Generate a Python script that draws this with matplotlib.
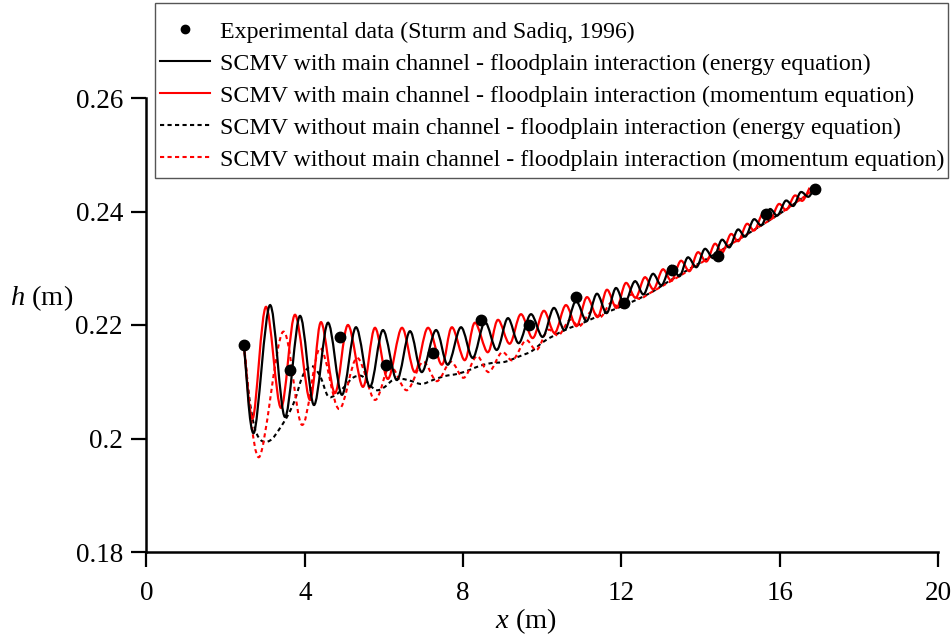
import numpy as np
import matplotlib
matplotlib.use("Agg")
import matplotlib.pyplot as plt
from matplotlib.path import Path
from matplotlib.patches import PathPatch, Rectangle
from matplotlib.lines import Line2D

plt.rcParams["font.family"] = ["Liberation Serif", "DejaVu Serif"]
plt.rcParams["mathtext.fontset"] = "custom"
plt.rcParams["mathtext.rm"] = "Liberation Serif"
plt.rcParams["mathtext.it"] = "Liberation Serif:italic"

# Experimental water depths (Sturm and Sadiq, 1996)
exp_x = [2.462, 3.624, 4.886, 6.048, 7.235, 8.447, 9.659, 10.846, 12.058,
         13.270, 14.432, 15.644, 16.881]
exp_h = [0.2165, 0.2121, 0.2179, 0.2130, 0.2151, 0.2209, 0.2200, 0.2249,
         0.2239, 0.2297, 0.2322, 0.2396, 0.2440]

# SCMV with interaction, energy equation (successive crests and troughs)
we_x = [2.462, 2.715, 3.119, 3.497, 3.876, 4.230, 4.583, 4.937, 5.290, 5.644,
        5.972, 6.326, 6.654, 6.957, 7.311, 7.614, 7.942, 8.245, 8.548, 8.851,
        9.129, 9.407, 9.710, 10.013, 10.290, 10.568, 10.846, 11.124, 11.376,
        11.629, 11.856, 12.083, 12.336, 12.563, 12.790, 13.018, 13.245, 13.472,
        13.674, 13.902, 14.104, 14.331, 14.533, 14.735, 14.937, 15.139, 15.341,
        15.543, 15.745, 15.947, 16.149, 16.351, 16.528, 16.730, 16.881]
we_h = [0.2165, 0.2010, 0.2235, 0.2038, 0.2216, 0.2059, 0.2204, 0.2077, 0.2196,
        0.2091, 0.2191, 0.2103, 0.2189, 0.2117, 0.2191, 0.2130, 0.2196, 0.2142,
        0.2205, 0.2156, 0.2212, 0.2168, 0.2219, 0.2179, 0.2230, 0.2191, 0.2242,
        0.2207, 0.2255, 0.2221, 0.2265, 0.2238, 0.2277, 0.2254, 0.2290, 0.2270,
        0.2304, 0.2286, 0.2319, 0.2302, 0.2334, 0.2318, 0.2350, 0.2337, 0.2368,
        0.2356, 0.2386, 0.2376, 0.2404, 0.2393, 0.2419, 0.2410, 0.2434, 0.2426,
        0.2443]

# SCMV with interaction, momentum equation
wm_x = [2.462, 2.689, 3.018, 3.396, 3.750, 4.129, 4.407, 4.760, 5.088, 5.467,
        5.770, 6.098, 6.452, 6.780, 7.109, 7.462, 7.715, 8.043, 8.295, 8.624,
        8.876, 9.179, 9.457, 9.760, 10.038, 10.316, 10.593, 10.871, 11.124,
        11.402, 11.629, 11.881, 12.109, 12.361, 12.588, 12.816, 13.043, 13.270,
        13.497, 13.725, 13.927, 14.154, 14.356, 14.558, 14.760, 14.962, 15.164,
        15.366, 15.568, 15.770, 15.972, 16.174, 16.376, 16.578, 16.755]
wm_h = [0.2165, 0.2036, 0.2232, 0.2054, 0.2218, 0.2068, 0.2205, 0.2080, 0.2200,
        0.2091, 0.2195, 0.2105, 0.2195, 0.2117, 0.2195, 0.2130, 0.2196, 0.2138,
        0.2204, 0.2152, 0.2209, 0.2167, 0.2219, 0.2177, 0.2225, 0.2186, 0.2235,
        0.2198, 0.2249, 0.2214, 0.2262, 0.2230, 0.2274, 0.2248, 0.2284, 0.2263,
        0.2298, 0.2278, 0.2313, 0.2295, 0.2328, 0.2312, 0.2343, 0.2328, 0.2360,
        0.2348, 0.2378, 0.2367, 0.2396, 0.2386, 0.2413, 0.2403, 0.2428, 0.2419,
        0.2442]

# SCMV without interaction, energy equation
ne_x = [2.462, 2.588, 2.715, 2.841, 2.992, 3.169, 3.371, 3.573, 3.750, 3.927,
        4.078, 4.230, 4.407, 4.583, 4.785, 5.013, 5.215, 5.442, 5.644, 5.821,
        6.023, 6.225, 6.452, 6.705, 6.957, 7.235, 7.538, 7.866, 8.169, 8.422,
        8.725, 9.053, 9.432, 9.735, 10.063, 10.568, 11.073, 11.578, 12.083,
        12.715, 13.220, 13.725, 14.482, 15.316, 16.174, 16.881]
ne_h = [0.2165, 0.2077, 0.2024, 0.2001, 0.1994, 0.1999, 0.2018, 0.2041, 0.2068,
        0.2107, 0.2124, 0.2126, 0.2107, 0.2075, 0.2077, 0.2092, 0.2107, 0.2110,
        0.2094, 0.2085, 0.2091, 0.2103, 0.2105, 0.2101, 0.2096, 0.2103, 0.2110,
        0.2114, 0.2121, 0.2128, 0.2133, 0.2135, 0.2145, 0.2154, 0.2172, 0.2191,
        0.2205, 0.2221, 0.2235, 0.2256, 0.2278, 0.2299, 0.2330, 0.2366, 0.2404,
        0.2440]

# SCMV without interaction, momentum equation
nm_x = [2.462, 2.841, 3.447, 3.927, 4.381, 4.861, 5.316, 5.770, 6.149, 6.578,
        6.982, 7.336, 7.689, 8.018, 8.346, 8.649, 8.977, 9.255, 9.583, 9.861,
        10.139, 10.417, 10.694, 10.947, 11.225, 11.477, 11.730, 11.982, 12.235,
        12.462, 12.715, 13.220, 13.725, 14.482, 15.316, 16.174, 16.881]
nm_h = [0.2165, 0.1967, 0.2188, 0.2024, 0.2159, 0.2052, 0.2142, 0.2068, 0.2128,
        0.2085, 0.2135, 0.2101, 0.2135, 0.2107, 0.2145, 0.2117, 0.2152, 0.2138,
        0.2173, 0.2156, 0.2191, 0.2182, 0.2209, 0.2198, 0.2223, 0.2214, 0.2239,
        0.2230, 0.2253, 0.2246, 0.2256, 0.2276, 0.2297, 0.2330, 0.2366, 0.2404,
        0.2440]

x_ticks = [0, 4, 8, 12, 16, 20]
y_ticks = [0.18, 0.2, 0.22, 0.24, 0.26]
y_tick_labels = ["0.18", "0.2", "0.22", "0.24", "0.26"]

legend_labels = [
    "Experimental data (Sturm and Sadiq, 1996)",
    "SCMV with main channel - floodplain interaction (energy equation)",
    "SCMV with main channel - floodplain interaction (momentum equation)",
    "SCMV without main channel - floodplain interaction (energy equation)",
    "SCMV without main channel - floodplain interaction (momentum equation)",
]


def smooth_path(xs, ys):
    """Catmull-Rom spline through the points, expressed as cubic Bezier segments."""
    pts = np.column_stack([xs, ys]).astype(float)
    n = len(pts)
    verts = [pts[0]]
    codes = [Path.MOVETO]
    for i in range(n - 1):
        p0 = pts[max(i - 1, 0)]
        p1 = pts[i]
        p2 = pts[i + 1]
        p3 = pts[min(i + 2, n - 1)]
        verts += [p1 + (p2 - p0) / 6.0, p2 - (p3 - p1) / 6.0, p2]
        codes += [Path.CURVE4] * 3
    return Path(np.array(verts), codes)


W, H = 953, 637
fig = plt.figure(figsize=(W / 100, H / 100), dpi=100)
ax = fig.add_axes([146.5 / W, 85 / H, 791.5 / W, 454 / H])

dash = (0, (2.0, 1.6))
ax.add_patch(PathPatch(smooth_path(ne_x, ne_h), fill=False, edgecolor="black",
                       lw=1.5, linestyle=dash, zorder=2))
ax.add_patch(PathPatch(smooth_path(nm_x, nm_h), fill=False, edgecolor="red",
                       lw=1.5, linestyle=dash, zorder=2.1))
ax.add_patch(PathPatch(smooth_path(wm_x, wm_h), fill=False, edgecolor="red",
                       lw=1.6, zorder=2.2))
ax.add_patch(PathPatch(smooth_path(we_x, we_h), fill=False, edgecolor="black",
                       lw=1.6, zorder=2.3))
ax.plot(exp_x, exp_h, "o", color="black", ms=7.5, zorder=3)

ax.set_xlim(0, 20)
ax.set_ylim(0.18, 0.26)
ax.set_xticks(x_ticks)
ax.set_xticklabels([str(t) for t in x_ticks])
ax.set_yticks(y_ticks)
ax.set_yticklabels(y_tick_labels)
for side in ("top", "right"):
    ax.spines[side].set_visible(False)
for side in ("left", "bottom"):
    ax.spines[side].set_linewidth(1.8)
ax.tick_params(direction="out", length=11, width=1.6, labelsize=19.5)
ax.tick_params(axis="y", pad=6)
ax.tick_params(axis="x", pad=10)

ax.set_xlabel(r"$x$ (m)", fontsize=20.5)
ax.xaxis.set_label_coords(0.48, -0.12)
ax.set_ylabel(r"$h$ (m)", fontsize=20.5, rotation=0, ha="center", va="center")
ax.yaxis.set_label_coords(-0.132, 0.559)

handles = [
    Line2D([], [], ls="none", marker="o", color="black", ms=6),
    Line2D([], [], color="black", lw=1.5),
    Line2D([], [], color="red", lw=1.5),
    Line2D([], [], color="black", lw=1.5, linestyle=dash),
    Line2D([], [], color="red", lw=1.5, linestyle=dash),
]
leg = fig.legend(handles, legend_labels, loc="upper left",
                 bbox_to_anchor=(160 / W, 1 - 21 / H),
                 bbox_transform=fig.transFigure, fontsize=17.2, frameon=False,
                 handlelength=2.1, handletextpad=0.42,
                 labelspacing=0.43, borderpad=0.0, borderaxespad=0)

# legend box
fig.patches.append(Rectangle((155 / W, 1 - 178 / H), 793 / W, 175 / H,
                             transform=fig.transFigure, fill=False,
                             edgecolor="#555555", lw=1.0, zorder=5))

fig.savefig("out.png", dpi=100)
